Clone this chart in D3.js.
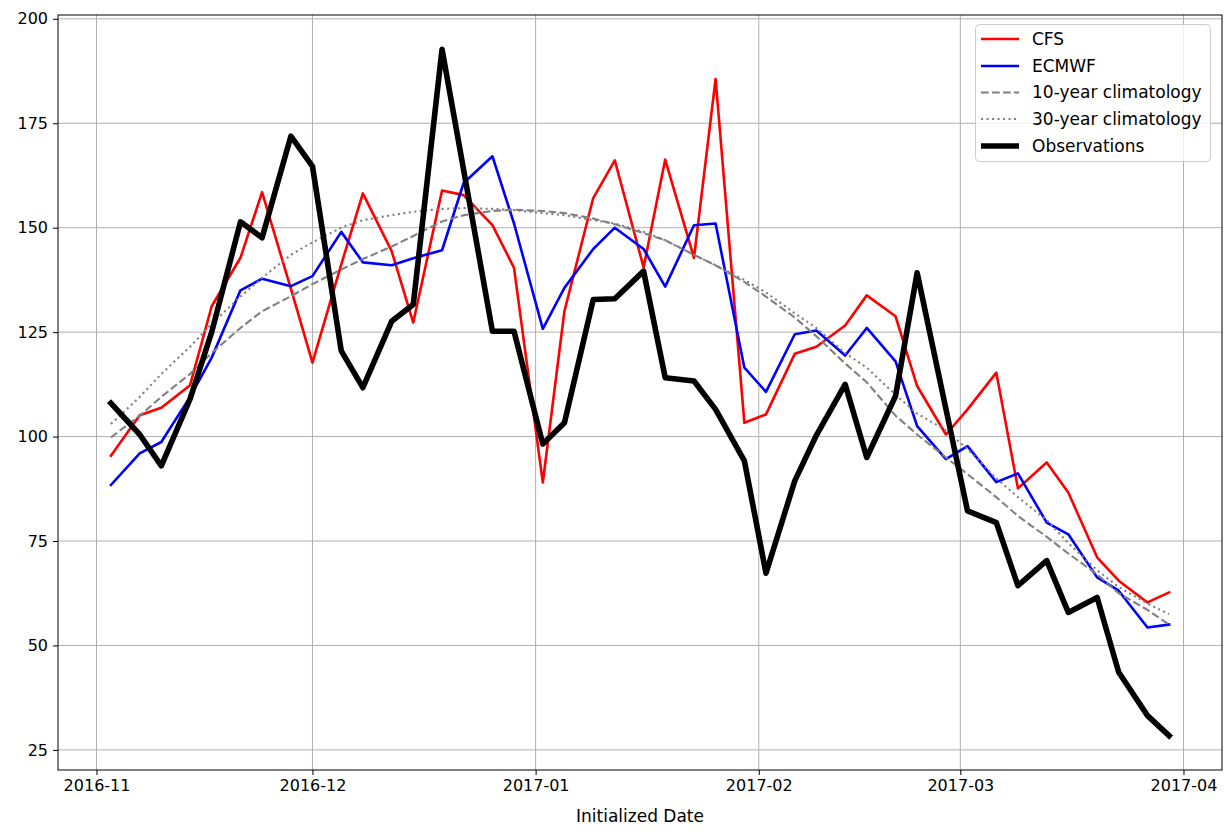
<!DOCTYPE html>
<html>
<head>
<meta charset="utf-8">
<script src="https://cdn.jsdelivr.net/npm/d3@7"></script>
<style>
  html, body { margin: 0; padding: 0; background: #fff; }
  svg { display: block; }
  text { font-family: "DejaVu Sans", sans-serif; }
</style>
</head>
<body>
<svg id="chart" width="1232" height="838"></svg>
<script>
const dates = [
  "2016-11-03","2016-11-07","2016-11-10","2016-11-14","2016-11-17","2016-11-21","2016-11-24","2016-11-28",
  "2016-12-01","2016-12-05","2016-12-08","2016-12-12","2016-12-15","2016-12-19","2016-12-22","2016-12-26","2016-12-29",
  "2017-01-02","2017-01-05","2017-01-09","2017-01-12","2017-01-16","2017-01-19","2017-01-23","2017-01-26","2017-01-30",
  "2017-02-02","2017-02-06","2017-02-09","2017-02-13","2017-02-16","2017-02-20","2017-02-23","2017-02-27",
  "2017-03-02","2017-03-06","2017-03-09","2017-03-13","2017-03-16","2017-03-20","2017-03-23","2017-03-27","2017-03-30"
];
const cfs = [95.4,105.1,106.9,112.3,131.2,142.8,158.5,135.4,117.7,141.2,158.2,144.4,127.3,158.9,157.8,150.6,140.4,
  89.0,130.0,157.1,166.1,140.5,166.3,142.8,185.6,103.3,105.3,119.8,121.5,126.6,133.8,128.8,112.1,100.5,
  106.5,115.3,87.6,93.8,86.6,71.1,65.5,60.3,62.7];
const ecmwf = [88.4,96.0,98.7,109.5,118.9,135.0,137.8,136.0,138.4,149.0,141.7,141.0,142.7,144.6,160.7,167.1,151.0,
  125.8,135.6,144.9,150.0,144.9,135.9,150.6,151.0,116.5,110.7,124.5,125.4,119.4,126.0,118.0,102.5,94.6,
  97.7,89.1,91.2,79.4,76.6,66.3,63.1,54.3,55.0];
const clim10 = [99.8,105.0,109.5,115.0,120.0,126.0,130.0,133.6,136.5,140.0,142.5,145.5,148.0,151.5,153.0,154.0,154.3,
  154.0,153.5,152.2,150.8,148.7,147.0,143.5,141.0,137.0,133.5,128.5,124.0,117.5,113.0,105.0,100.5,95.0,
  91.0,85.5,81.0,76.0,72.0,67.0,62.5,58.5,55.0];
const clim30 = [103.0,109.5,115.0,121.5,127.0,133.5,138.0,143.5,146.5,150.0,151.8,153.0,153.8,154.5,154.7,154.5,154.2,
  153.5,153.0,151.8,151.0,149.0,147.0,143.5,141.0,137.5,134.5,129.5,126.0,120.0,116.5,110.0,105.5,101.5,
  97.0,90.0,85.5,80.0,74.5,68.0,64.0,60.0,57.5];
const obs = [108.0,100.5,93.0,109.0,125.0,151.4,147.6,171.9,164.7,120.5,111.7,127.6,131.6,192.7,163.8,125.2,125.2,
  98.2,103.3,132.8,133.0,139.6,114.1,113.3,106.5,94.2,67.3,89.4,100.3,112.5,95.0,109.7,139.2,106.6,
  82.2,79.4,64.3,70.3,57.9,61.5,43.6,33.2,28.4];
const yTicks = [25,50,75,100,125,150,175,200];
const xTickLabels = ["2016-11","2016-12","2017-01","2017-02","2017-03","2017-04"];
const seriesNames = ["CFS","ECMWF","10-year climatology","30-year climatology","Observations"];
const xLabel = "Initialized Date";

const parse = d3.timeParse("%Y-%m-%d");
const parseMonth = d3.timeParse("%Y-%m");
const D = dates.map(parse);

const svg = d3.select("#chart");
const L = 58, R = 1222, T = 15, B = 770;

const dExt = d3.extent(D);
const padT = (dExt[1] - dExt[0]) * 0.05;
const x = d3.scaleTime()
  .domain([new Date(+dExt[0] - padT), new Date(+dExt[1] + padT)])
  .range([L, R]);

const allVals = cfs.concat(ecmwf, clim10, clim30, obs);
const vMin = d3.min(allVals), vMax = d3.max(allVals);
const padV = (vMax - vMin) * 0.05;
const y = d3.scaleLinear().domain([vMin - padV, vMax + padV]).range([B, T]);

const xTicks = xTickLabels.map(parseMonth);

// grid
const grid = svg.append("g");
grid.selectAll("line.gx").data(xTicks).join("line")
  .attr("x1", d => x(d)).attr("x2", d => x(d)).attr("y1", T).attr("y2", B)
  .attr("stroke", "#b0b0b0").attr("stroke-width", 1);
grid.selectAll("line.gy").data(yTicks).join("line")
  .attr("y1", d => y(d)).attr("y2", d => y(d)).attr("x1", L).attr("x2", R)
  .attr("stroke", "#b0b0b0").attr("stroke-width", 1);

// lines
svg.append("clipPath").attr("id", "clip").append("rect")
  .attr("x", L).attr("y", T).attr("width", R - L).attr("height", B - T);
const plot = svg.append("g").attr("clip-path", "url(#clip)");
const line = d3.line().x((d, i) => x(D[i])).y(d => y(d));

const styles = [
  {data: cfs, color: "#ff0000", w: 2.6, dash: null, cap: "square"},
  {data: ecmwf, color: "#0000ff", w: 2.6, dash: null, cap: "square"},
  {data: clim10, color: "#808080", w: 2.1, dash: "7.7,3.3", cap: "butt"},
  {data: clim30, color: "#808080", w: 2.1, dash: "2.1,3.4", cap: "butt"},
  {data: obs, color: "#000000", w: 5.6, dash: null, cap: "square"}
];
styles.forEach(s => {
  plot.append("path").attr("d", line(s.data))
    .attr("fill", "none").attr("stroke", s.color).attr("stroke-width", s.w)
    .attr("stroke-dasharray", s.dash).attr("stroke-linejoin", "round")
    .attr("stroke-linecap", s.cap);
});

// axes
const fs = 16;
const xAxis = svg.append("g").attr("transform", `translate(0,${B})`)
  .call(d3.axisBottom(x).tickValues(xTicks).tickFormat((d, i) => xTickLabels[i]).tickSize(5).tickPadding(5));
const yAxis = svg.append("g").attr("transform", `translate(${L},0)`)
  .call(d3.axisLeft(y).tickValues(yTicks).tickFormat(d3.format("d")).tickSize(5).tickPadding(5));
[xAxis, yAxis].forEach(a => {
  a.select(".domain").remove();
  a.selectAll("line").attr("stroke", "#000").attr("stroke-width", 1);
  a.selectAll("text").attr("font-size", fs).attr("fill", "#000")
    .attr("font-family", "DejaVu Sans, sans-serif");
});

// spines
svg.append("rect").attr("x", L).attr("y", T).attr("width", R - L).attr("height", B - T)
  .attr("fill", "none").attr("stroke", "#000").attr("stroke-width", 1);

svg.append("text").attr("x", (L + R) / 2).attr("y", 822).attr("text-anchor", "middle")
  .attr("font-size", 17).attr("fill", "#000").text(xLabel);

// legend
const lg = svg.append("g");
lg.append("rect").attr("x", 975.5).attr("y", 24.5).attr("width", 235).attr("height", 137)
  .attr("rx", 4).attr("fill", "#fff").attr("fill-opacity", 0.8)
  .attr("stroke", "#cccccc").attr("stroke-width", 1);
const rowY = [39, 66, 92.5, 119, 146];
seriesNames.forEach((n, i) => {
  const s = styles[i];
  lg.append("line").attr("x1", 981).attr("x2", 1019).attr("y1", rowY[i]).attr("y2", rowY[i])
    .attr("stroke", s.color).attr("stroke-width", s.w).attr("stroke-dasharray", s.dash);
  lg.append("text").attr("x", 1032).attr("y", rowY[i]).attr("dy", "0.35em")
    .attr("font-size", 17).attr("fill", "#000").text(n);
});
</script>
</body>
</html>
